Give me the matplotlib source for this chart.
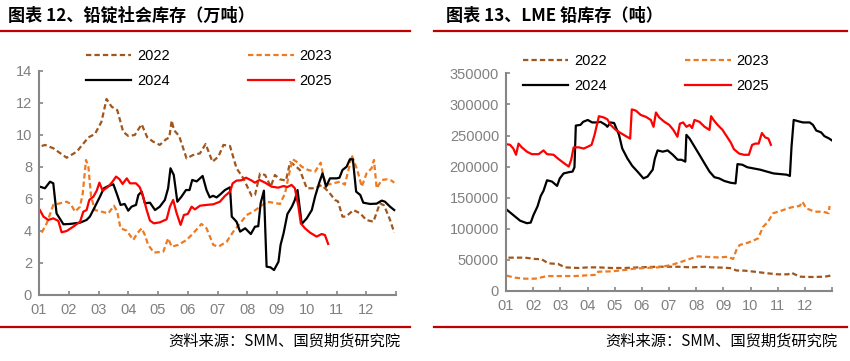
import matplotlib
matplotlib.use("Agg")
import matplotlib.pyplot as plt

plt.rcParams['font.family'] = ['Liberation Sans', 'Noto Sans CJK SC']

# x positions are in months from Jan 1 (0..12)
month_labels = ["01", "02", "03", "04", "05", "06", "07", "08", "09", "10", "11", "12"]
years = ["2022", "2023", "2024", "2025"]

# ---- left: lead ingot social inventory (10k t) ----
soc22_x = [0.09, 0.2, 0.48, 0.93, 1.27, 1.66, 1.88, 2.1, 2.27, 2.44, 2.63, 2.83, 3.0, 3.22, 3.45, 3.64,
           3.84, 4.06, 4.27, 4.38, 4.46, 4.54, 4.71, 4.96, 5.18, 5.41, 5.6, 5.83, 6.03, 6.2, 6.42, 6.64,
           6.87, 7.15, 7.26, 7.43, 7.6, 7.79, 7.93, 8.1, 8.3, 8.44, 8.6, 8.77, 9.0, 9.28, 9.5, 9.73,
           9.95, 10.05, 10.2, 10.32, 10.57, 10.8, 11.0, 11.24, 11.46, 11.6, 11.8, 11.94]
soc22_y = [9.31, 9.38, 9.17, 8.58, 8.96, 9.85, 10.06, 10.83, 12.25, 11.77, 11.56, 10.2, 9.94, 10.0, 10.67, 9.85,
           9.58, 9.38, 9.73, 9.85, 10.9, 10.3, 9.94, 8.54, 8.75, 8.85, 9.44, 8.33, 8.65, 9.38, 9.31, 7.92,
           7.29, 6.19, 6.25, 7.6, 7.5, 6.77, 7.5, 7.23, 7.15, 8.3, 8.1, 7.81, 6.67, 6.67, 6.87, 6.46,
           5.94, 5.85, 4.9, 4.9, 5.31, 5.1, 4.69, 4.58, 5.73, 5.6, 4.69, 3.9]

soc23_x = [0.09, 0.26, 0.48, 0.7, 0.93, 1.06, 1.21, 1.38, 1.47, 1.58, 1.66, 1.75, 1.88, 2.1, 2.33, 2.52,
           2.63, 2.74, 2.95, 3.17, 3.3, 3.45, 3.56, 3.67, 3.86, 4.18, 4.34, 4.46, 4.68, 4.96, 5.18, 5.46,
           5.63, 5.86, 6.03, 6.31, 6.53, 6.76, 6.98, 7.2, 7.43, 7.65, 7.87, 8.1, 8.27, 8.41, 8.53, 8.66,
           8.83, 9.05, 9.28, 9.47, 9.56, 9.67, 9.89, 10.12, 10.28, 10.43, 10.51, 10.7, 10.85, 11.01, 11.18,
           11.26, 11.35, 11.52, 11.69, 11.85, 11.94]
soc23_y = [3.9, 4.48, 5.63, 5.73, 5.83, 5.7, 5.21, 5.52, 6.35, 8.44, 8.02, 6.15, 5.31, 5.21, 5.1, 5.58,
           5.21, 4.17, 4.02, 3.44, 3.85, 4.17, 3.75, 3.13, 2.65, 2.71, 3.54, 3.02, 3.13, 3.44, 3.85, 4.44,
           4.17, 3.13, 3.02, 3.33, 3.96, 4.48, 5.0, 5.21, 5.52, 5.83, 5.77, 5.69, 6.35, 7.6, 8.48, 8.33,
           8.02, 7.81, 7.71, 8.27, 7.4, 6.88, 6.98, 7.08, 6.9, 8.02, 8.75, 7.81, 6.77, 7.6, 7.92,
           8.44, 6.67, 7.19, 7.23, 7.15, 7.02]

soc24_x = [0.03, 0.2, 0.37, 0.48, 0.59, 0.82, 1.04, 1.38, 1.6, 1.71, 1.88, 2.05, 2.18, 2.33, 2.5, 2.63,
           2.74, 2.88, 3.0, 3.11, 3.26, 3.34, 3.45, 3.56, 3.73, 3.9, 4.06, 4.23, 4.34, 4.42, 4.53, 4.65,
           4.79, 4.94, 5.06, 5.15, 5.3, 5.5, 5.63, 5.74, 5.85, 5.97, 6.1, 6.25, 6.42, 6.48, 6.64, 6.76,
           6.93, 7.12, 7.26, 7.37, 7.45, 7.56, 7.65, 7.78, 7.9, 8.05, 8.12, 8.22, 8.35, 8.5, 8.6, 8.69,
           8.83, 9.0, 9.17, 9.28, 9.42, 9.53, 9.65, 9.78, 10.0, 10.1, 10.2, 10.34, 10.45, 10.55, 10.66,
           10.8, 10.9, 11.13, 11.35, 11.52, 11.63, 11.8, 11.94]
soc24_y = [6.77, 6.67, 7.08, 6.98, 5.1, 4.42, 4.44, 4.52, 4.69, 4.9, 5.52, 6.15, 6.67, 6.81, 6.92, 6.25,
           5.63, 5.69, 5.27, 5.52, 5.63, 6.25, 6.46, 5.73, 5.77, 5.31, 5.52, 5.94, 6.67, 7.92, 7.5, 5.83,
           6.15, 6.56, 6.56, 7.19, 7.1, 7.44, 6.56, 6.1, 6.2, 6.1, 6.3, 6.56, 6.73, 4.9, 4.58, 3.96,
           4.17, 3.81, 4.27, 4.3, 5.73, 6.52, 1.77, 1.73, 1.56, 2.08, 3.13, 3.85, 5.06, 5.52, 5.94, 6.56,
           4.44, 4.79, 5.31, 6.15, 7.02, 7.6, 6.77, 7.29, 7.29, 7.33, 7.81, 8.02, 8.48, 8.48, 6.46,
           6.25, 5.77, 5.69, 5.71, 5.9, 5.83, 5.52, 5.31]

soc25_x = [0.03, 0.15, 0.31, 0.48, 0.65, 0.76, 0.93, 1.15, 1.38, 1.49, 1.6, 1.69, 1.83, 1.94, 2.03, 2.14,
           2.33, 2.47, 2.59, 2.7, 2.81, 2.95, 3.06, 3.26, 3.39, 3.5, 3.62, 3.73, 3.86, 4.06, 4.29, 4.4,
           4.51, 4.62, 4.76, 4.87, 5.0, 5.13, 5.24, 5.41, 5.63, 5.86, 6.08, 6.25, 6.42, 6.51, 6.64, 6.8,
           6.96, 7.15, 7.26, 7.41, 7.6, 7.82, 8.04, 8.22, 8.35, 8.49, 8.6, 8.72, 8.8, 8.94, 9.11, 9.33,
           9.5, 9.61, 9.72]
soc25_y = [5.31, 4.9, 4.69, 4.79, 4.63, 3.92, 4.0, 4.27, 4.58, 5.21, 5.31, 5.94, 6.15, 6.52, 7.02, 6.52,
           6.77, 7.08, 7.4, 7.25, 6.94, 7.29, 6.98, 6.98, 6.73, 6.15, 5.31, 4.65, 4.48, 4.54, 4.73, 5.52,
           5.94, 5.15, 4.38, 5.0, 5.06, 5.52, 5.35, 5.58, 5.63, 5.67, 5.83, 6.19, 6.46, 6.98, 7.15, 7.17,
           7.33, 7.15, 7.02, 7.19, 7.02, 6.77, 6.71, 6.81, 6.75, 6.88, 6.67, 5.52, 4.48, 4.17, 3.9, 3.65,
           3.81, 3.75, 3.19]

# ---- right: LME lead stocks (t) ----
lme22_x = [0.09, 0.7, 1.07, 1.31, 1.56, 1.92, 2.17, 2.66, 3.03, 3.39, 3.88, 4.37, 4.87, 5.6, 6.34, 6.83,
           7.32, 7.56, 8.05, 8.3, 8.48, 8.79, 9.15, 9.64, 10.0, 10.38, 10.5, 10.81, 11.24, 11.73, 11.95]
lme22_y = [53600, 53600, 51500, 51000, 44500, 43400, 38000, 37000, 38000, 38000, 37000, 37000, 38000,
           39000, 39000, 38000, 39000, 38000, 37500, 36500, 33000, 32700, 31000, 28400, 26800, 26800,
           29500, 23000, 22500, 23000, 24700]

lme23_x = [0.02, 0.33, 0.7, 1.07, 1.31, 1.5, 1.92, 2.54, 2.9, 3.33, 3.39, 3.88, 4.37, 4.74, 5.11, 5.6,
           6.09, 6.46, 6.83, 7.07, 7.44, 7.81, 8.17, 8.36, 8.48, 8.6, 8.91, 9.15, 9.28, 9.46, 9.64, 9.83,
           10.13, 10.38, 10.62, 10.81, 10.91, 11.05, 11.36, 11.67, 11.88, 11.91]
lme23_y = [24700, 21400, 19800, 19800, 22000, 24000, 24000, 24000, 25000, 26000, 31000, 31600, 33800,
           36000, 37000, 38000, 41800, 47000, 52500, 55700, 54700, 54000, 55000, 51500, 66000, 74000,
           77700, 82000, 84700, 103000, 111000, 125000, 129000, 133000, 135600, 136700, 143600, 133000,
           127500, 127500, 125000, 136700]

lme24_x = [0.02, 0.27, 0.52, 0.77, 0.91, 1.01, 1.16, 1.28, 1.38, 1.51, 1.69, 1.88, 1.98, 2.12, 2.31, 2.45,
           2.52, 2.57, 2.74, 2.84, 3.01, 3.17, 3.36, 3.48, 3.67, 3.73, 3.85, 3.98, 4.16, 4.28, 4.47, 4.65,
           4.84, 5.06, 5.21, 5.4, 5.48, 5.58, 5.77, 5.95, 6.14, 6.32, 6.46, 6.6, 6.64, 6.76, 6.94, 7.12,
           7.31, 7.49, 7.67, 7.85, 8.03, 8.27, 8.45, 8.52, 8.7, 8.88, 9.12, 9.36, 9.6, 9.85, 10.09, 10.33,
           10.45, 10.51, 10.59, 10.75, 10.93, 11.18, 11.3, 11.42, 11.6, 11.72, 11.9, 12.0]
lme24_y = [131000, 122000, 113000, 109000, 110000, 122000, 136000, 153000, 161000, 178000, 176000,
           169000, 181000, 189000, 191000, 192000, 199000, 266000, 267000, 272000, 275000, 271000,
           271000, 272000, 267000, 264000, 271000, 270000, 251000, 229000, 213000, 201000, 192000,
           181000, 184000, 195000, 213000, 226000, 224000, 226000, 219000, 211000, 211000, 208000,
           251000, 245000, 232000, 219000, 205000, 192000, 183000, 181000, 177000, 174000, 173000,
           204000, 203000, 199000, 197000, 195000, 192000, 189000, 188000, 187000, 185000, 232000,
           275000, 273000, 271000, 271000, 267000, 258000, 255000, 249000, 245000, 242000]

lme25_x = [0.02, 0.15, 0.27, 0.37, 0.46, 0.58, 0.77, 0.95, 1.2, 1.38, 1.51, 1.75, 1.94, 2.12, 2.31, 2.4,
           2.49, 2.68, 2.86, 3.01, 3.15, 3.26, 3.42, 3.6, 3.73, 3.85, 4.04, 4.22, 4.41, 4.57, 4.63, 4.78,
           4.96, 5.15, 5.33, 5.43, 5.52, 5.64, 5.83, 6.01, 6.16, 6.31, 6.4, 6.52, 6.64, 6.76, 6.85, 6.94,
           7.12, 7.31, 7.49, 7.55, 7.64, 7.79, 7.97, 8.15, 8.27, 8.39, 8.58, 8.76, 8.94, 9.06, 9.18, 9.3,
           9.42, 9.54, 9.66, 9.75]
lme25_y = [236000, 235000, 229000, 219000, 237000, 231000, 224000, 220000, 220000, 226000, 220000,
           219000, 212000, 206000, 200000, 211000, 231000, 231000, 229000, 232000, 235000, 251000,
           281000, 279000, 276000, 267000, 259000, 254000, 249000, 245000, 292000, 290000, 283000,
           280000, 275000, 264000, 287000, 279000, 272000, 267000, 259000, 248000, 269000, 271000,
           264000, 267000, 262000, 275000, 272000, 264000, 259000, 281000, 275000, 267000, 259000,
           247000, 239000, 228000, 221000, 219000, 219000, 235000, 237000, 237000, 254000, 247000,
           245000, 235000]

c22 = "#A0561C"
c23 = "#EE7A22"
c24 = "#000000"
c25 = "#FF0000"
dash = (0, (2.4, 1.4))
axis_grey = "#868686"
tick_grey = "#808080"
title_red = "#C00000"

W, H = 850, 361
fig = plt.figure(figsize=(W / 100, H / 100), dpi=100)


def fx(px):
    return px / W


def fy(py):
    return 1 - py / H


def style_axes(ax, ymax, ystep):
    ax.set_xlim(0, 12)
    ax.set_ylim(0, ymax)
    ax.set_xticks(range(13))
    ax.set_xticklabels(month_labels + [""])
    ax.set_yticks(range(0, ymax + 1, ystep))
    for s in ("top", "right"):
        ax.spines[s].set_visible(False)
    for s in ("left", "bottom"):
        ax.spines[s].set_color(axis_grey)
        ax.spines[s].set_linewidth(1.5)
    ax.tick_params(direction="in", length=3, width=1.2, color=axis_grey,
                   labelcolor=tick_grey, labelsize=10.5)
    ax.tick_params(axis="x", pad=6)
    ax.tick_params(axis="y", pad=5)


def draw_panel(ax, series, ymax, ystep, leg_x, leg_y):
    styles = [(c22, dash), (c23, dash), (c24, "-"), (c25, "-")]
    lines = []
    for (xs, ys), (col, ls), lab in zip(series, styles, years):
        ln, = ax.plot(xs, ys, color=col, linestyle=ls, linewidth=1.6, label=lab)
        lines.append(ln)
    style_axes(ax, ymax, ystep)
    # legend is filled column-wise, so reorder to get 2022 2023 / 2024 2025 rows
    order = [0, 2, 1, 3]
    ax.legend([lines[i] for i in order], [years[i] for i in order],
              ncol=2, loc="upper left", frameon=False, fontsize=10.5,
              bbox_to_anchor=(fx(leg_x), fy(leg_y)), bbox_transform=fig.transFigure,
              borderaxespad=0, borderpad=0, handlelength=3.1, handletextpad=0.4,
              columnspacing=5.4, labelspacing=0.75)


# left panel
axL = fig.add_axes([fx(39), fy(295), fx(396 - 39), (295 - 71) / H])
draw_panel(axL, [(soc22_x, soc22_y), (soc23_x, soc23_y), (soc24_x, soc24_y), (soc25_x, soc25_y)],
           14, 2, 86, 49)

# right panel
axR = fig.add_axes([fx(506), fy(291), fx(832 - 506), (291 - 73.3) / H])
draw_panel(axR, [(lme22_x, lme22_y), (lme23_x, lme23_y), (lme24_x, lme24_y), (lme25_x, lme25_y)],
           350000, 50000, 523, 54)

# titles, rules and source notes
cjk = ["Noto Sans CJK SC", "DejaVu Sans"]
fig.text(fx(8), fy(16), "图表 12、铅锭社会库存（万吨）", family=cjk, fontsize=12.3,
         fontweight="bold", va="center", ha="left")
fig.text(fx(446), fy(16), "图表 13、LME 铅库存（吨）", family=cjk, fontsize=12.3,
         fontweight="bold", va="center", ha="left")
for x0, x1 in ((0, 410), (434, 847)):
    for yy in (31, 326.5):
        fig.add_artist(plt.Line2D([fx(x0), fx(x1)], [fy(yy), fy(yy)], color=title_red,
                                  linewidth=1.6, transform=fig.transFigure))
fig.text(fx(400), fy(341), "资料来源：SMM、国贸期货研究院", family=cjk, fontsize=11,
         va="center", ha="right")
fig.text(fx(837), fy(341), "资料来源：SMM、国贸期货研究院", family=cjk, fontsize=11,
         va="center", ha="right")

fig.savefig("out.png", dpi=100)
